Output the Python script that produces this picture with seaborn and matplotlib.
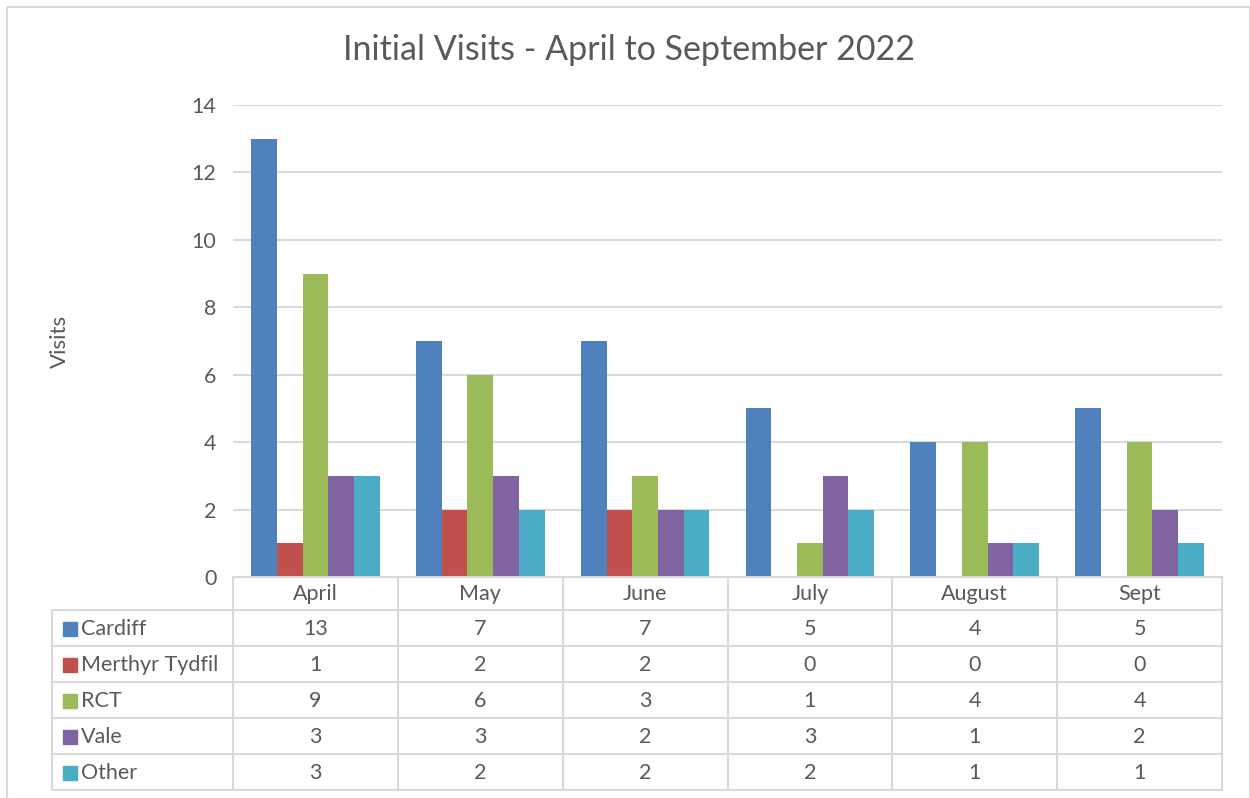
import pandas as pd
import numpy as np
import seaborn as sns
import matplotlib.pyplot as plt
from matplotlib.patches import Rectangle

# Datos
months = ['April', 'May', 'June', 'July', 'August', 'Sept']
areas = ['Cardiff', 'Merthyr Tydfil', 'RCT', 'Vale', 'Other']
cardiff = [13, 7, 7, 5, 4, 5]
merthyr = [1, 2, 2, 0, 0, 0]
rct = [9, 6, 3, 1, 4, 4]
vale = [3, 3, 2, 3, 1, 2]
other = [3, 2, 2, 2, 1, 1]
colors = ['#4F81BD', '#C0504D', '#9BBB59', '#8064A2', '#4BACC6']

values = [cardiff, merthyr, rct, vale, other]
df = pd.DataFrame({
    'Month': months * len(areas),
    'Area': np.repeat(areas, len(months)),
    'Visits': np.concatenate(values),
})

sns.set_theme(style='white')
plt.rcParams['font.family'] = ['Lato', 'DejaVu Sans']
txt = '#595959'
grid_c = '#D9D9D9'
fs = 15.5

W, H = 1250, 798
fig = plt.figure(figsize=(12.5, 7.98), dpi=100)

# área del gráfico (en pixeles)
x0, x1 = 233, 1222
ytop, ybot = 105, 577
ax = fig.add_axes([x0 / W, 1 - ybot / H, (x1 - x0) / W, (ybot - ytop) / H])
sns.barplot(data=df, x='Month', y='Visits', hue='Area', palette=colors,
            width=0.78, gap=0, saturation=1, ax=ax, legend=False, errorbar=None,
            linewidth=0)
ax.set_ylim(0, 14)
ax.set_xlim(-0.5, len(months) - 0.5)
ax.set_yticks(range(0, 15, 2))
ax.yaxis.grid(True, color=grid_c, linewidth=1.5)
ax.set_axisbelow(True)
for s in ax.spines.values():
    s.set_visible(False)
ax.set_xticks([])
ax.set_xlabel('')
ax.set_ylabel('')
ax.tick_params(axis='y', length=0, pad=12, labelsize=fs, labelcolor=txt)

# capa para tabla, título y marco
ov = fig.add_axes([0, 0, 1, 1], facecolor='none')
ov.set_xlim(0, W)
ov.set_ylim(H, 0)
ov.axis('off')

ov.add_patch(Rectangle((7, 7), W - 7, H + 10, fill=False, edgecolor=grid_c, linewidth=1.5))
ov.text(629, 50, 'Initial Visits - April to September 2022', ha='center', va='center',
        fontsize=24.5, color=txt)
ov.text(60, 341, 'Visits', rotation=90, ha='center', va='center', fontsize=16, color=txt)

# tabla de datos
colw = (x1 - x0) / len(months)
xl = 52
rows = [577, 610, 646, 682, 718, 754, 790]
lw = 1.5
# líneas horizontales
ov.plot([x0, x1], [rows[0], rows[0]], color=grid_c, lw=lw)
for y in rows[1:]:
    ov.plot([xl, x1], [y, y], color=grid_c, lw=lw)
# líneas verticales
ov.plot([xl, xl], [rows[1], rows[-1]], color=grid_c, lw=lw)
for i in range(len(months) + 1):
    ov.plot([x0 + i * colw] * 2, [rows[0], rows[-1]], color=grid_c, lw=lw)

for i, m in enumerate(months):
    ov.text(x0 + (i + 0.5) * colw, (rows[0] + rows[1]) / 2 + 1, m, ha='center', va='center',
            fontsize=fs, color=txt)
for r, (a, vals, c) in enumerate(zip(areas, values, colors)):
    yc = (rows[r + 1] + rows[r + 2]) / 2 + 1
    ov.add_patch(Rectangle((63, yc - 7), 14, 14, color=c))
    ov.text(81, yc, a, ha='left', va='center', fontsize=fs, color=txt)
    for i, v in enumerate(vals):
        ov.text(x0 + (i + 0.5) * colw, yc, str(v), ha='center', va='center',
                fontsize=fs, color=txt)

fig.savefig('out.png', dpi=100, facecolor='white')
